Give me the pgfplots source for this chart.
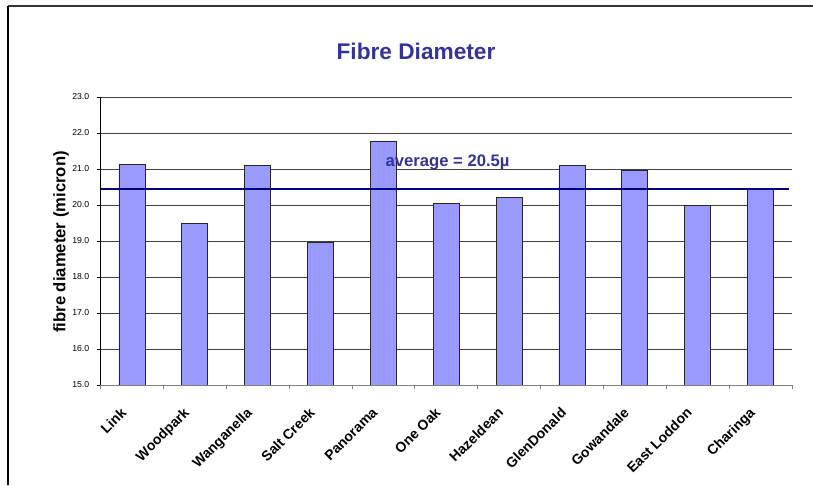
\documentclass[border=0pt]{standalone}
\usepackage{pgfplots}
\pgfplotsset{compat=1.18}
\usepackage{fontspec}
\setmainfont{Liberation Sans}
\definecolor{titleblue}{HTML}{333399}
\definecolor{barfill}{HTML}{9999FF}
\definecolor{avgline}{HTML}{000080}
\begin{document}
\begin{tikzpicture}[x=0.75pt,y=0.75pt]
\useasboundingbox (0,0) rectangle (813,485);
\draw[line width=1.5pt, black!80] (8,478.5) -- (813,478.5);
\draw[line width=1.5pt, black] (8,479) -- (8,0);
\node[font=\fontsize{17}{20}\selectfont\bfseries, text=titleblue] at (416,434) {Fibre Diameter};
\node[font=\fontsize{12.5}{14}\selectfont\bfseries, rotate=90] at (61,243) {fibre diameter (micron)};
\begin{axis}[
  at={(75.375pt,75pt)}, anchor=south west,
  scale only axis, width=518.6pt, height=216pt,
  xmin=-0.5, xmax=10.5, ymin=15, ymax=23,
  axis x line*=bottom, axis y line*=left,
  x axis line style={draw=gray},
  y axis line style={draw=black},
  ytick={15,16,...,23},
  ymajorgrids, major grid style={black!75, line width=0.6pt},
  yticklabel style={font=\fontsize{6.5}{7}\selectfont, xshift=-2pt, /pgf/number format/.cd, fixed, fixed zerofill, precision=1},
  /pgf/number format/assume math mode=true,
  tick align=outside, major tick length=3pt,
  xtick={0,...,10},
  xticklabels={Link,Woodpark,Wanganella,Salt Creek,Panorama,One Oak,Hazeldean,GlenDonald,Gowandale,East Loddon,Charinga},
  x tick style={draw=none},
  xticklabel style={rotate=45, anchor=north east, font=\fontsize{10.5}{12}\selectfont\bfseries, inner sep=1pt, xshift=-14.6pt, yshift=-1.8pt},
  extra x ticks={-0.5,0.5,...,10.5},
  extra x tick labels={},
  extra x tick style={x tick style={draw=gray, line width=0.6pt}, grid=none},
  y tick style={draw=black, line width=0.6pt},
]
\addplot[ybar, bar width=19.5pt, fill=barfill, draw=black!85, line width=0.6pt] coordinates {
 (0,21.13) (1,19.50) (2,21.10) (3,18.95) (4,21.78) (5,20.05) (6,20.21) (7,21.10) (8,20.97) (9,20.00) (10,20.43)};
\addplot[avgline, line width=1.6pt] coordinates {(-0.5,20.44) (10.45,20.44)};
\node[anchor=base west, inner sep=0pt, font=\fontsize{12.5}{14}\selectfont\bfseries, text=titleblue] at (axis cs:4.03,21.06) {average = 20.5µ};
\end{axis}
\end{tikzpicture}
\end{document}
